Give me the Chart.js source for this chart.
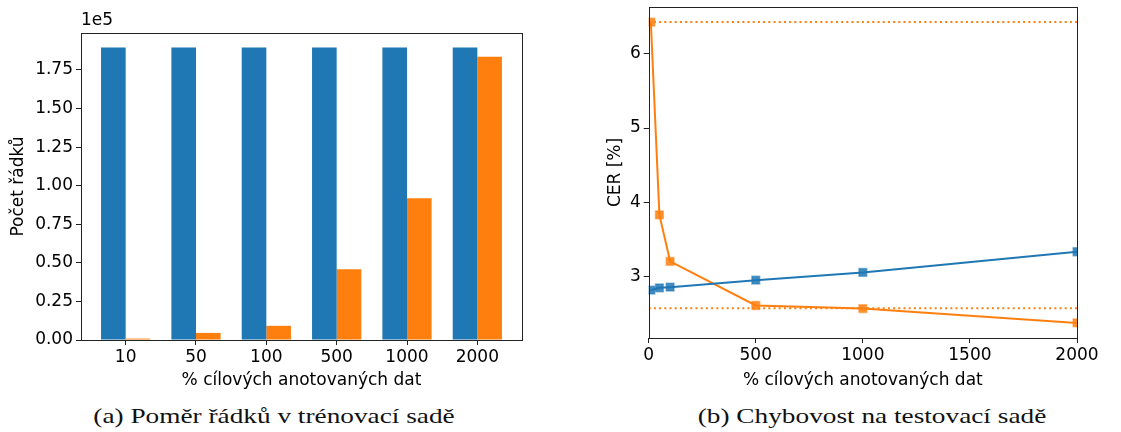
<!DOCTYPE html>
<html>
<head>
<meta charset="utf-8">
<script src="https://cdn.jsdelivr.net/npm/chart.js@4/dist/chart.umd.min.js"></script>
<style>
  html, body { margin: 0; padding: 0; background: #fff; }
  body { width: 1121px; height: 432px; position: relative; overflow: hidden; }
  .panel { position: absolute; top: 0; height: 400px; }
  #left { left: 0; width: 560px; }
  #right { left: 580px; width: 541px; }
  .caption {
    position: absolute; top: 403px; width: 500px; text-align: center;
    font-family: "Liberation Serif", serif; font-size: 22px; color: #111;
    transform: scaleX(1.24); transform-origin: center;
  }
</style>
</head>
<body>
<div class="panel" id="left"><canvas id="barChart" width="560" height="400"></canvas></div>
<div class="panel" id="right"><canvas id="lineChart" width="541" height="400"></canvas></div>
<div class="caption" style="left:24px">(a) Poměr řádků v trénovací sadě</div>
<div class="caption" style="left:622px">(b) Chybovost na testovací sadě</div>
<script>
// Data
const categories = ['10', '50', '100', '500', '1000', '2000'];
const sourceRows = [189500, 189500, 189500, 189500, 189500, 189500];
const targetRows = [918, 4590, 9180, 45900, 91800, 183600];
const rowTicks = [0, 25000, 50000, 75000, 100000, 125000, 150000, 175000];

const percents = [10, 50, 100, 500, 1000, 2000];
const cerSource = [2.82, 2.852, 2.861, 2.955, 3.058, 3.337];
const cerTarget = [6.426, 3.833, 3.208, 2.614, 2.573, 2.379];
const cerBaselines = [6.426, 2.578];
const percentTicks = [0, 500, 1000, 1500, 2000];
const cerTicks = [3, 4, 5, 6];

const BLUE = '#1f77b4';
const ORANGE = '#ff7f0e';
const FONT = { family: 'DejaVu Sans', size: 17 };

Chart.defaults.font.family = 'DejaVu Sans';
Chart.defaults.color = '#000';

// Helpers
const frame = {
  id: 'frame',
  afterDraw(chart) {
    const { ctx, chartArea: a } = chart;
    ctx.save();
    ctx.strokeStyle = '#222';
    ctx.lineWidth = 1;
    ctx.strokeRect(Math.round(a.left) + 0.5, Math.round(a.top) + 0.5,
      Math.round(a.right - a.left), Math.round(a.bottom - a.top));
    ctx.restore();
  }
};

const offsetText = {
  id: 'offsetText',
  afterDraw(chart) {
    const { ctx, chartArea: a } = chart;
    ctx.save();
    ctx.font = '17px "DejaVu Sans"';
    ctx.fillStyle = '#000';
    ctx.textBaseline = 'bottom';
    ctx.fillText('1e5', a.left, a.top - 4);
    ctx.restore();
  }
};

// fixed axis box, no extra label padding
function fixed(size) {
  return function (scale) {
    if (scale.isHorizontal()) {
      scale.height = size;
    } else {
      scale.width = size;
      scale.paddingTop = 0;
      scale.paddingBottom = 0;
    }
  };
}

const useTicks = (values) => (scale) => { scale.ticks = values.map((value) => ({ value })); };

const tickGrid = { drawOnChartArea: false, drawTicks: true, tickLength: 5, color: '#222' };

const pt = (xs, ys) => xs.map((x, i) => ({ x, y: ys[i] }));

// (a) bar chart
new Chart(document.getElementById('barChart'), {
  type: 'bar',
  data: {
    datasets: [
      { data: pt(categories.map((_, i) => i), sourceRows), backgroundColor: BLUE, categoryPercentage: 0.7, barPercentage: 1 },
      { data: pt(categories.map((_, i) => i), targetRows), backgroundColor: ORANGE, categoryPercentage: 0.7, barPercentage: 1 }
    ]
  },
  options: {
    responsive: false,
    animation: false,
    layout: { padding: { top: 33, right: 38, left: 0, bottom: 0 } },
    plugins: { legend: { display: false }, tooltip: { enabled: false } },
    scales: {
      x: {
        type: 'linear', offset: false, min: -0.635, max: 5.635,
        grid: { ...tickGrid, offset: false },
        border: { display: false },
        afterFit: fixed(60),
        afterBuildTicks: useTicks(categories.map((_, i) => i)),
        ticks: { autoSkip: false, maxRotation: 0, padding: 2, font: FONT,
          callback: (v) => categories[v] },
        title: { display: true, text: '% cílových anotovaných dat', font: FONT, padding: { bottom: 9 } }
      },
      y: {
        min: 0, max: 198975,
        grid: tickGrid,
        border: { display: false },
        afterFit: fixed(81),
        afterBuildTicks: useTicks(rowTicks),
        ticks: { padding: 3, font: FONT, callback: (v) => (v / 1e5).toFixed(2) },
        title: { display: true, text: 'Počet řádků', font: FONT, padding: { top: 8 } }
      }
    }
  },
  plugins: [frame, offsetText]
});

// (b) line chart
const squarePoint = (c) => ({
  borderColor: c, pointStyle: 'rect', pointRadius: 5.5,
  pointBackgroundColor: c + 'd9', pointBorderColor: c + '80', pointBorderWidth: 1.5,
  borderWidth: 2, fill: false
});

new Chart(document.getElementById('lineChart'), {
  type: 'line',
  data: {
    datasets: [
      ...cerBaselines.map((v) => ({
        data: [{ x: 0, y: v }, { x: 2000, y: v }], borderColor: ORANGE, borderWidth: 2,
        borderDash: [2, 3.2], pointRadius: 0
      })),
      { data: pt(percents, cerSource), ...squarePoint(BLUE) },
      { data: pt(percents, cerTarget), ...squarePoint(ORANGE) }
    ]
  },
  options: {
    responsive: false,
    animation: false,
    layout: { padding: { top: 7, right: 44, left: 0, bottom: 0 } },
    plugins: { legend: { display: false }, tooltip: { enabled: false } },
    scales: {
      x: {
        type: 'linear', min: 0, max: 2000,
        grid: tickGrid,
        border: { display: false },
        afterFit: fixed(62),
        afterBuildTicks: useTicks(percentTicks),
        ticks: { autoSkip: false, maxRotation: 0, padding: 2, font: FONT, callback: (v) => String(v) },
        title: { display: true, text: '% cílových anotovaných dat', font: FONT, padding: { bottom: 9 } }
      },
      y: {
        min: 2.177, max: 6.628,
        grid: tickGrid,
        border: { display: false },
        afterFit: fixed(68.7),
        afterBuildTicks: useTicks(cerTicks),
        ticks: { padding: 3, font: FONT, callback: (v) => String(v) },
        title: { display: true, text: 'CER [%]', font: FONT, padding: { top: 25 } }
      }
    }
  },
  plugins: [frame]
});
</script>
</body>
</html>
